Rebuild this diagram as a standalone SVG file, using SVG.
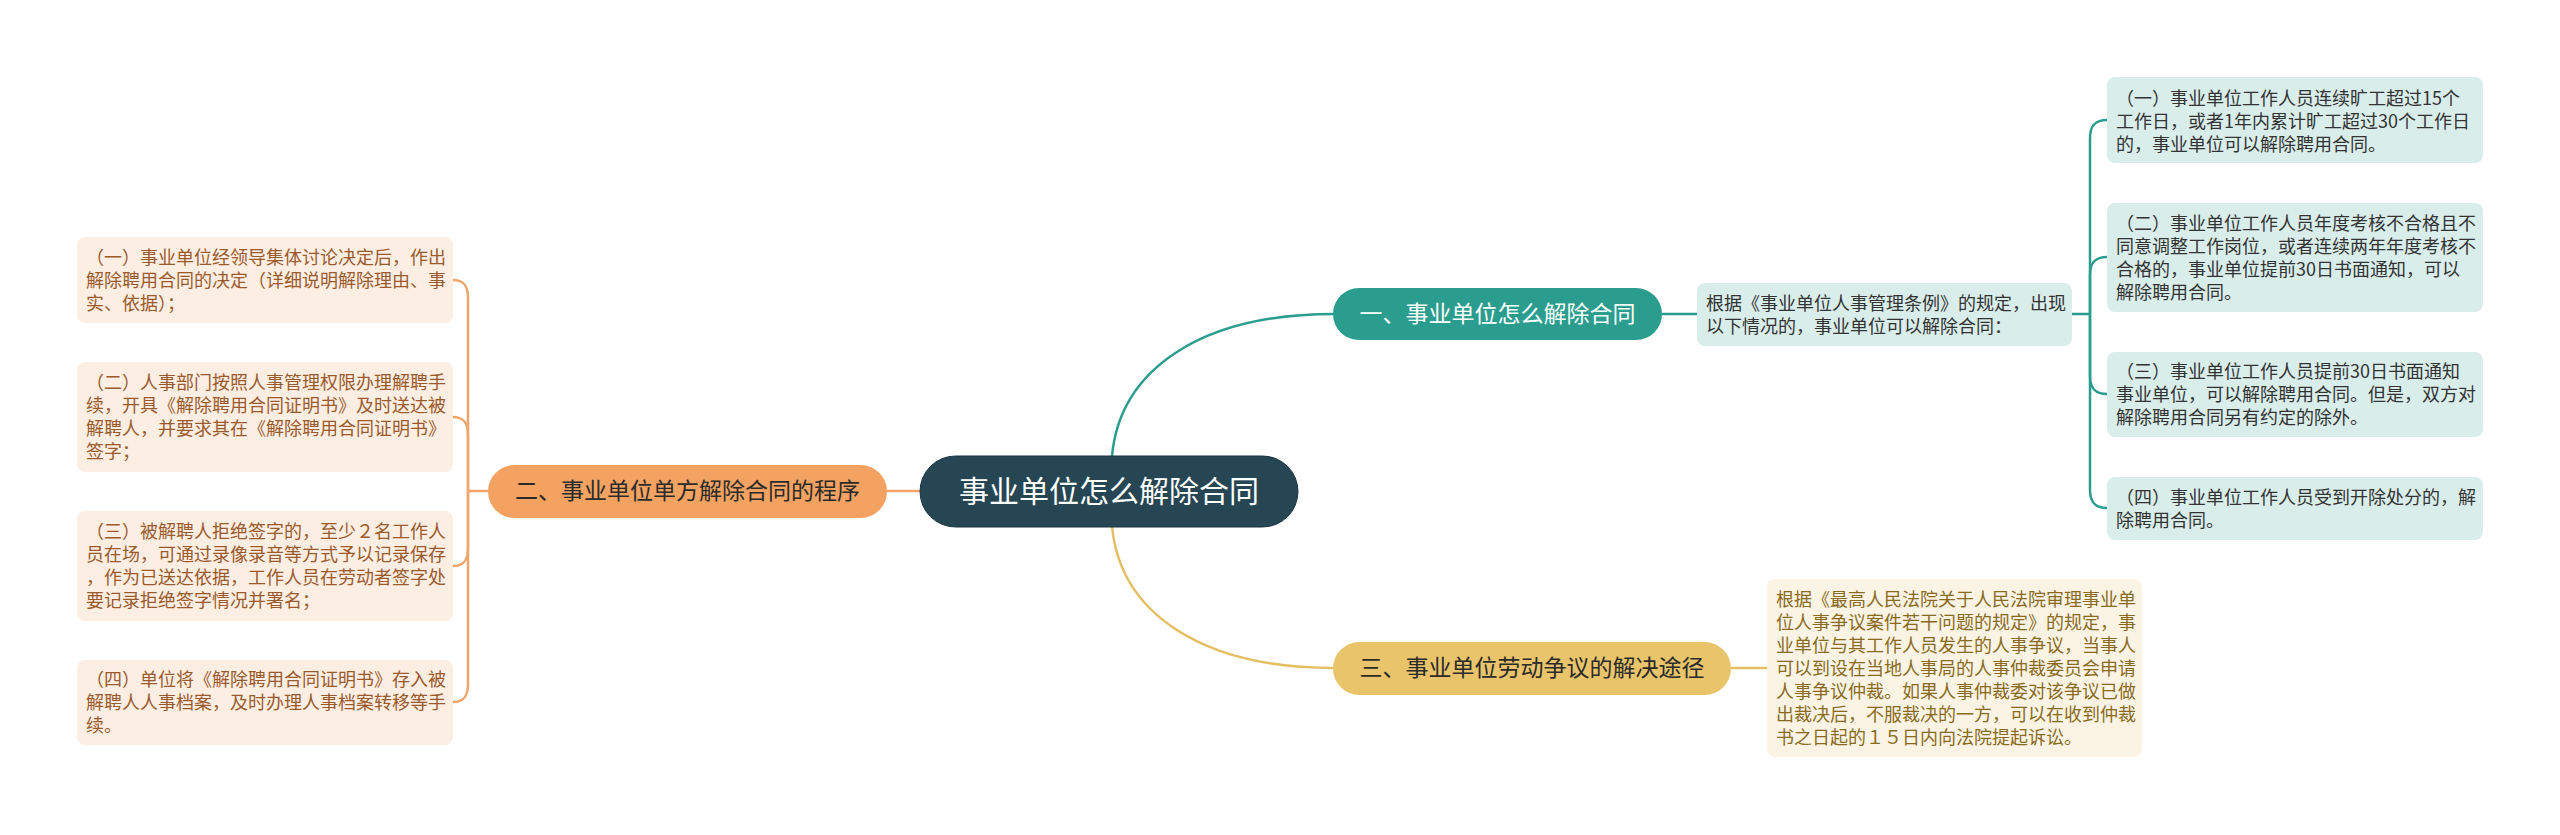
<svg xmlns="http://www.w3.org/2000/svg" width="2560" height="835" viewBox="0 0 2560 835">
<style>
text{font-family:"Noto Sans CJK SC","Noto Sans",sans-serif}
.lf{font-size:18px}
.tl{fill:#9a5a2c}
.tr{fill:#333333}
.ty{fill:#8a6a1c}
.nd{font-size:23px;text-anchor:middle}
.c{fill:none;stroke-width:2.5}
.co{stroke:#F0A56A}
.ct{stroke:#2A9D8F}
.cy{stroke:#E5BE62}
.bl{fill:#FDEEE3}
.bt{fill:#D9EDEB}
.bo{fill:#FBF4E4}
</style>
<rect width="2560" height="835" fill="#ffffff"/>
<g id="connectors">
<path class="c ct" d="M1112 456 C1120 370 1200 314 1334 314"/>
<path class="c cy" d="M1112 526 C1120 612 1200 668 1334 668"/>
<path class="c co" d="M920 491 L887 491"/>
<path class="c co" d="M488 491 L468 491"/>
<path class="c co" d="M468 491 L468 298 C468 286 464 280 453 280"/>
<path class="c co" d="M468 491 L468 435 C468 423 464 417 453 417"/>
<path class="c co" d="M468 491 L468 548 C468 560 464 566 453 566"/>
<path class="c co" d="M468 491 L468 684 C468 696 464 702 453 702"/>
<path class="c ct" d="M1662 314 L1697 314"/>
<path class="c ct" d="M2072 314 L2090 314"/>
<path class="c ct" d="M2090 314 L2090 138 C2090 126 2095 120 2107 120"/>
<path class="c ct" d="M2090 314 L2090 275 C2090 263 2095 257 2107 257"/>
<path class="c ct" d="M2090 314 L2090 376 C2090 388 2095 394 2107 394"/>
<path class="c ct" d="M2090 314 L2090 490 C2090 502 2095 508 2107 508"/>
<path class="c cy" d="M1731 668 L1767 668"/>
</g>
<g id="center">
<rect x="920" y="456" width="378" height="71" rx="35.5" fill="#264653" stroke="#1b3440" stroke-width="1"/>
<text x="1109" y="502" font-size="30" fill="#ffffff" text-anchor="middle">事业单位怎么解除合同</text>
</g>
<g id="n1">
<rect x="1333" y="288" width="329" height="52" rx="26" fill="#2A9D8F"/>
<text class="nd" x="1497.5" y="322" fill="#ffffff">一、事业单位怎么解除合同</text>
</g>
<g id="n2">
<rect x="488" y="465" width="399" height="53" rx="26.5" fill="#F4A261"/>
<text class="nd" x="687.5" y="499" fill="#2b2b2b">二、事业单位单方解除合同的程序</text>
</g>
<g id="n3">
<rect x="1333" y="642" width="398" height="53" rx="26.5" fill="#E9C46A"/>
<text class="nd" x="1532" y="676" fill="#2b2b2b">三、事业单位劳动争议的解决途径</text>
</g>
<g id="n1-leaf">
<rect class="bt" x="1697" y="283" width="375" height="63" rx="8"/>
<text class="lf tr"><tspan x="1706" y="309.5">根据《事业单位人事管理条例》的规定，出现</tspan><tspan x="1706" y="332.5">以下情况的，事业单位可以解除合同：</tspan></text>
</g>
<g id="r1">
<rect class="bt" x="2107" y="77" width="376" height="86" rx="8"/>
<text class="lf tr"><tspan x="2116" y="104.5">（一）事业单位工作人员连续旷工超过15个</tspan><tspan x="2116" y="127.5">工作日，或者1年内累计旷工超过30个工作日</tspan><tspan x="2116" y="150.5">的，事业单位可以解除聘用合同。</tspan></text>
</g>
<g id="r2">
<rect class="bt" x="2107" y="203" width="376" height="109" rx="8"/>
<text class="lf tr"><tspan x="2116" y="230">（二）事业单位工作人员年度考核不合格且不</tspan><tspan x="2116" y="253">同意调整工作岗位，或者连续两年年度考核不</tspan><tspan x="2116" y="276">合格的，事业单位提前30日书面通知，可以</tspan><tspan x="2116" y="299">解除聘用合同。</tspan></text>
</g>
<g id="r3">
<rect class="bt" x="2107" y="352" width="376" height="85" rx="8"/>
<text class="lf tr"><tspan x="2116" y="378">（三）事业单位工作人员提前30日书面通知</tspan><tspan x="2116" y="401">事业单位，可以解除聘用合同。但是，双方对</tspan><tspan x="2116" y="424">解除聘用合同另有约定的除外。</tspan></text>
</g>
<g id="r4">
<rect class="bt" x="2107" y="477" width="376" height="63" rx="8"/>
<text class="lf tr"><tspan x="2116" y="503.5">（四）事业单位工作人员受到开除处分的，解</tspan><tspan x="2116" y="526.5">除聘用合同。</tspan></text>
</g>
<g id="l1">
<rect class="bl" x="77" y="237" width="376" height="86" rx="8"/>
<text class="lf tl"><tspan x="86" y="263.5">（一）事业单位经领导集体讨论决定后，作出</tspan><tspan x="86" y="286.5">解除聘用合同的决定（详细说明解除理由、事</tspan><tspan x="86" y="309.5">实、依据）；</tspan></text>
</g>
<g id="l2">
<rect class="bl" x="77" y="362" width="376" height="110" rx="8"/>
<text class="lf tl"><tspan x="86" y="389">（二）人事部门按照人事管理权限办理解聘手</tspan><tspan x="86" y="412">续，开具《解除聘用合同证明书》及时送达被</tspan><tspan x="86" y="435">解聘人，并要求其在《解除聘用合同证明书》</tspan><tspan x="86" y="458">签字；</tspan></text>
</g>
<g id="l3">
<rect class="bl" x="77" y="511" width="376" height="110" rx="8"/>
<text class="lf tl"><tspan x="86" y="538">（三）被解聘人拒绝签字的，至少２名工作人</tspan><tspan x="86" y="561">员在场，可通过录像录音等方式予以记录保存</tspan><tspan x="86" y="584">，作为已送达依据，工作人员在劳动者签字处</tspan><tspan x="86" y="607">要记录拒绝签字情况并署名；</tspan></text>
</g>
<g id="l4">
<rect class="bl" x="77" y="660" width="376" height="85" rx="8"/>
<text class="lf tl"><tspan x="86" y="686">（四）单位将《解除聘用合同证明书》存入被</tspan><tspan x="86" y="709">解聘人人事档案，及时办理人事档案转移等手</tspan><tspan x="86" y="732">续。</tspan></text>
</g>
<g id="n3-leaf">
<rect class="bo" x="1767" y="579" width="375" height="178" rx="8"/>
<text class="lf ty"><tspan x="1776" y="605.5">根据《最高人民法院关于人民法院审理事业单</tspan><tspan x="1776" y="628.5">位人事争议案件若干问题的规定》的规定，事</tspan><tspan x="1776" y="651.5">业单位与其工作人员发生的人事争议，当事人</tspan><tspan x="1776" y="674.5">可以到设在当地人事局的人事仲裁委员会申请</tspan><tspan x="1776" y="697.5">人事争议仲裁。如果人事仲裁委对该争议已做</tspan><tspan x="1776" y="720.5">出裁决后，不服裁决的一方，可以在收到仲裁</tspan><tspan x="1776" y="743.5">书之日起的１５日内向法院提起诉讼。</tspan></text>
</g>
</svg>
